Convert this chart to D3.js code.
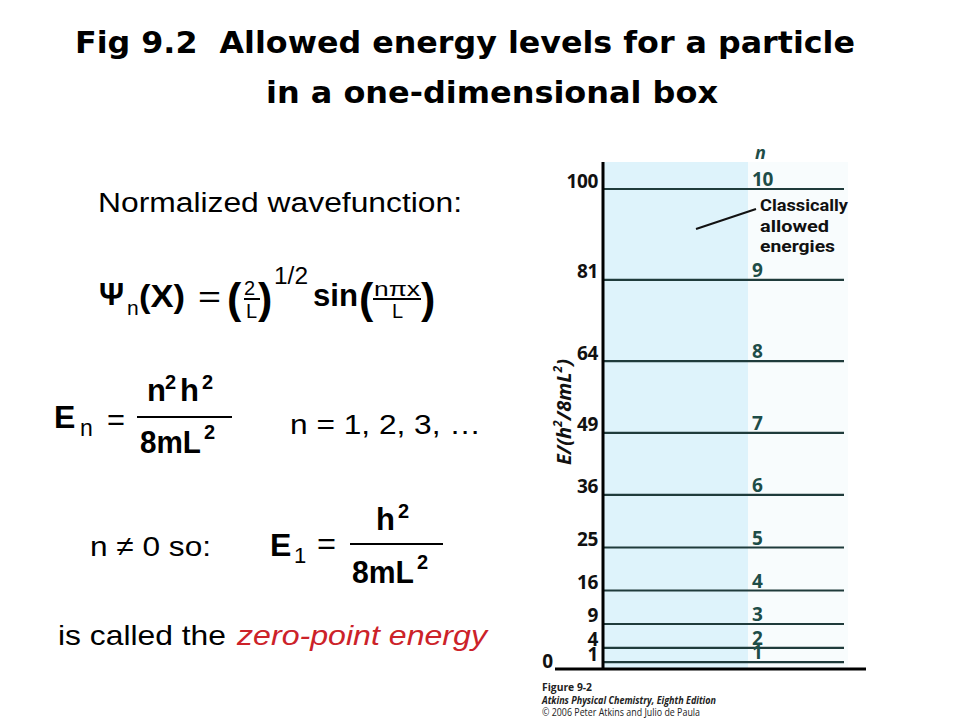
<!DOCTYPE html>
<html>
<head>
<meta charset="utf-8">
<script src="https://cdn.jsdelivr.net/npm/d3@7"></script>
<style>
  body { margin: 0; background: #fff; }
  svg { display: block; }
</style>
</head>
<body>
<svg id="chart" width="960" height="720"></svg>
<script>
// energy levels, in units of h^2/8mL^2
const levelN = [1, 2, 3, 4, 5, 6, 7, 8, 9, 10];
const levelEnergy = [1, 4, 9, 16, 25, 36, 49, 64, 81, 100];
const tickLabels = ["1", "4", "9", "16", "25", "36", "49", "64", "81", "100"];
const classicalLabel = ["Classically", "allowed", "energies"];
const footerLines = [
  "Figure 9-2",
  "Atkins Physical Chemistry, Eighth Edition",
  "\u00a9 2006 Peter Atkins and Julio de Paula",
];

const svg = d3.select("#chart");
const levelColor = "#1f3b3b";
const nColor = "#1e4d48";
const chartFont = "'Open Sans', sans-serif";
const mathFont = "'Liberation Sans', Arial, sans-serif";

const axisX = 603;
const bandRight = 748;
const lineRight = 844;
const y = d3.scaleLinear().domain([0, 100]).range([667, 189]);

// title
const title = svg
  .append("g")
  .attr("font-family", "'DejaVu Sans', Verdana, sans-serif")
  .attr("font-weight", "bold")
  .attr("font-size", 30);
title
  .append("text")
  .attr("x", 75)
  .attr("y", 53)
  .attr("textLength", 780)
  .attr("lengthAdjust", "spacingAndGlyphs")
  .text("Fig 9.2\u00a0 Allowed energy levels for a particle");
title
  .append("text")
  .attr("x", 266)
  .attr("y", 103)
  .attr("textLength", 452)
  .attr("lengthAdjust", "spacingAndGlyphs")
  .text("in a one-dimensional box");

// ---- chart on the right ----
const chart = svg.append("g");

chart
  .append("rect")
  .attr("x", bandRight)
  .attr("y", 162)
  .attr("width", lineRight + 4 - bandRight)
  .attr("height", y(0) + 2 - 162)
  .attr("fill", "#f8fcfd");
chart
  .append("rect")
  .attr("x", axisX)
  .attr("y", 162)
  .attr("width", bandRight - axisX)
  .attr("height", y(0) + 2 - 162)
  .attr("fill", "#def3fb");

chart
  .selectAll(".level")
  .data(levelEnergy)
  .join("line")
  .attr("class", "level")
  .attr("x1", axisX)
  .attr("x2", lineRight)
  .attr("y1", (d) => y(d))
  .attr("y2", (d) => y(d))
  .attr("stroke", levelColor)
  .attr("stroke-width", 2.2);

const yAxis = d3
  .axisLeft(y)
  .tickValues(levelEnergy)
  .tickSize(0)
  .tickPadding(5)
  .tickFormat((d, i) => tickLabels[i]);
const axisG = chart
  .append("g")
  .attr("transform", `translate(${axisX},0)`)
  .call(yAxis);
axisG.select(".domain").remove();
axisG
  .selectAll("text")
  .attr("dy", "-2px")
  .attr("font-family", chartFont)
  .attr("font-weight", "bold")
  .attr("font-size", 19)
  .attr("letter-spacing", "-0.4px")
  .attr("fill", "#111");

chart
  .append("text")
  .attr("x", 553)
  .attr("y", 668)
  .attr("text-anchor", "end")
  .attr("font-family", chartFont)
  .attr("font-weight", "bold")
  .attr("font-size", 19)
  .attr("fill", "#111")
  .text("0");

// axes lines
chart
  .append("line")
  .attr("x1", axisX)
  .attr("x2", axisX)
  .attr("y1", 162)
  .attr("y2", y(0) + 3)
  .attr("stroke", "#000")
  .attr("stroke-width", 3);
chart
  .append("line")
  .attr("x1", 555)
  .attr("x2", 866)
  .attr("y1", y(0) + 2)
  .attr("y2", y(0) + 2)
  .attr("stroke", "#000")
  .attr("stroke-width", 3);

// n labels
chart
  .append("text")
  .attr("x", 755)
  .attr("y", 159)
  .attr("font-family", chartFont)
  .attr("font-weight", "bold")
  .attr("font-style", "italic")
  .attr("font-size", 18)
  .attr("fill", nColor)
  .text("n");
chart
  .selectAll(".n-label")
  .data(levelN)
  .join("text")
  .attr("class", "n-label")
  .attr("x", 752)
  .attr("y", (d, i) => y(levelEnergy[i]) - 3)
  .attr("font-family", chartFont)
  .attr("font-weight", "bold")
  .attr("font-size", 19)
  .attr("letter-spacing", "-0.4px")
  .attr("fill", nColor)
  .text((d) => d);

// classically allowed energies annotation
chart
  .selectAll(".classical")
  .data(classicalLabel)
  .join("text")
  .attr("class", "classical")
  .attr("x", 760)
  .attr("y", (d, i) => 211 + i * 20.5)
  .attr("font-family", "Roboto, sans-serif")
  .attr("font-weight", "bold")
  .attr("font-size", 17)
  .attr("textLength", (d, i) => [88, 69, 75][i])
  .attr("lengthAdjust", "spacingAndGlyphs")
  .attr("fill", "#111")
  .text((d) => d);
chart
  .append("line")
  .attr("x1", 696)
  .attr("y1", 229)
  .attr("x2", 756)
  .attr("y2", 209)
  .attr("stroke", "#111")
  .attr("stroke-width", 2);

// y axis title
const yTitle = chart
  .append("text")
  .attr("transform", "translate(571,412) rotate(-90)")
  .attr("text-anchor", "middle")
  .attr("font-family", chartFont)
  .attr("font-weight", "bold")
  .attr("font-style", "italic")
  .attr("font-size", 20)
  .attr("fill", "#111");
yTitle.append("tspan").text("E/(h");
yTitle.append("tspan").attr("dy", -9).attr("font-size", 12).text("2");
yTitle.append("tspan").attr("dy", 9).text("/8mL");
yTitle.append("tspan").attr("dy", -9).attr("font-size", 12).text("2");
yTitle.append("tspan").attr("dy", 9).text(")");

// footer
chart
  .selectAll(".footer")
  .data(footerLines)
  .join("text")
  .attr("class", "footer")
  .attr("x", 542)
  .attr("y", (d, i) => 691 + i * 12.5)
  .attr("font-family", chartFont)
  .attr("font-size", 10.5)
  .attr("font-weight", (d, i) => (i < 2 ? "bold" : "normal"))
  .attr("font-style", (d, i) => (i === 1 ? "italic" : "normal"))
  .attr("textLength", (d, i) => [50, 174, 158][i])
  .attr("lengthAdjust", "spacingAndGlyphs")
  .attr("fill", "#222")
  .text((d) => d);

// ---- formulas on the left ----
const math = svg.append("g").attr("font-family", mathFont).attr("fill", "#000");

const txt = (x, yy, s, size, opts = {}) =>
  math
    .append("text")
    .attr("x", x)
    .attr("y", yy)
    .attr("font-size", size)
    .attr("font-weight", opts.bold ? "bold" : "normal")
    .attr("font-style", opts.italic ? "italic" : "normal")
    .attr("fill", opts.fill || "#000")
    .attr("textLength", opts.len || null)
    .attr("lengthAdjust", opts.len ? "spacingAndGlyphs" : null)
    .text(s);

const bar = (x1, x2, yy) =>
  math
    .append("line")
    .attr("x1", x1)
    .attr("x2", x2)
    .attr("y1", yy)
    .attr("y2", yy)
    .attr("stroke", "#000")
    .attr("stroke-width", 2);

txt(98, 212, "Normalized wavefunction:", 27, { len: 364 });

// psi_n(x)
txt(99, 305, "\u03a8", 31, { bold: true });
txt(127, 315, "n", 21);
txt(139, 307, "(X)", 31, { bold: true, len: 46 });
txt(198, 307, "=", 30, { len: 23 });
txt(227, 313, "(", 43, { bold: true });
txt(244, 295, "2", 20);
bar(244, 260, 299);
txt(246, 318, "L", 20);
txt(258, 313, ")", 43, { bold: true });
txt(274, 284, "1/2", 23, { len: 34 });
txt(313, 306, "sin", 31, { bold: true, len: 45 });
txt(359, 313, "(", 43, { bold: true });
txt(374, 296, "n\u03c0x", 20, { len: 46 });
bar(373, 421, 299);
txt(392, 318, "L", 20);
txt(421, 313, ")", 43, { bold: true });

// E_n
txt(54, 428, "E", 32, { bold: true });
txt(80, 436, "n", 23);
txt(107, 430, "=", 30, { len: 18 });
txt(147, 401, "n", 31, { bold: true });
txt(165, 389, "2", 20, { bold: true });
txt(180, 401, "h", 31, { bold: true });
txt(202, 389, "2", 20, { bold: true });
bar(137, 232, 417);
txt(140, 453, "8mL", 31, { bold: true, len: 61 });
txt(204, 439, "2", 20, { bold: true });
txt(290, 434, "n = 1, 2, 3, \u2026", 28, { len: 191 });

// E_1
txt(90, 556, "n \u2260 0 so:", 28, { len: 121 });
txt(270, 556, "E", 32, { bold: true });
txt(294, 563, "1", 22);
txt(317, 554, "=", 30, { len: 19 });
txt(376, 530, "h", 31, { bold: true });
txt(398, 518, "2", 20, { bold: true });
bar(350, 443, 544);
txt(352, 583, "8mL", 31, { bold: true, len: 62 });
txt(417, 569, "2", 20, { bold: true });

txt(58, 645, "is called the", 28, { len: 168 });
txt(237, 645, "zero-point energy", 28, { italic: true, fill: "#cc2229", len: 250 });
</script>
</body>
</html>
